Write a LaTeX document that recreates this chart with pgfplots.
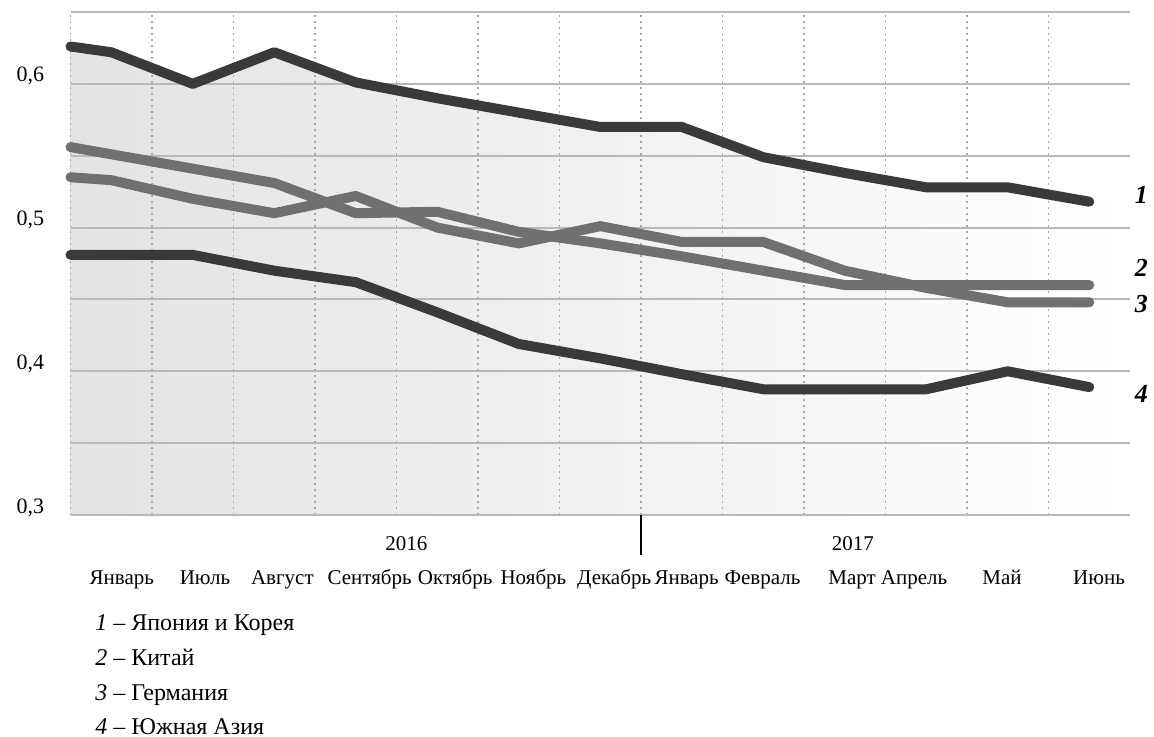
\documentclass[border=0pt]{standalone}
\usepackage{fontspec}
\setmainfont{Liberation Serif}
\usepackage{pgfplots}
\pgfplotsset{compat=1.18}
\definecolor{darkline}{HTML}{3A3A3A}
\definecolor{midline}{HTML}{707070}
\definecolor{gridgray}{HTML}{B8B8B8}
\definecolor{dotgray}{HTML}{A8A8A8}

\begin{document}
\begin{tikzpicture}
\begin{axis}[
  at={(35.25pt,-257.5pt)}, anchor=south west,
  scale only axis, width=529.75pt, height=251.5pt,
  xmin=-0.5, xmax=12.5, ymin=0.3, ymax=0.65,
  set layers, clip=false,
  axis background/.style={left color=black!11, right color=white},
  axis line style={draw=none},
  tick style={draw=none},
  ytick={0.3,0.4,0.5,0.6},
  minor ytick={0.35,0.45,0.55,0.65},
  ymajorgrids, yminorgrids,
  major y grid style={gridgray, line width=1pt},
  minor y grid style={gridgray, line width=1pt},
  minor xtick={-0.5,0.5,...,11.5},
  xminorgrids,
  minor x grid style={dotgray, line width=0.8pt, dash pattern=on 0.8pt off 2.2pt},
  xtick={0.13,1.15,2.10,3.17,4.22,5.18,6.17,7.06,7.99,9.09,9.85,10.93,12.12},
  xticklabels={Январь,Июль,Август,Сентябрь,Октябрь,Ноябрь,Декабрь,Январь,Февраль,Март,Апрель,Май,Июнь},
  xticklabel style={font=\fontsize{10.5}{12}\selectfont, anchor=base, yshift=-34.5pt},
  yticklabel style={font=\fontsize{11}{13}\selectfont, anchor=base east, inner sep=0pt, xshift=-13pt, yshift=1pt,
    /pgf/number format/.cd, use comma, fixed, fixed zerofill, precision=1},
  /pgf/number format/assume math mode=true,
]
% white above the Japan & Korea curve, so the shading stays only beneath it
\addplot[on layer=axis background, draw=none, fill=white]
  coordinates {(-0.5,0.65) (-0.5,0.626) (0,0.622) (1,0.600) (2,0.622) (3,0.601) (4,0.590) (5,0.580)
               (6,0.570) (7,0.570) (8,0.549) (9,0.538) (10,0.528) (11,0.528) (12,0.518)
               (12.5,0.518) (12.5,0.65)};

% 4 - South Asia
\addplot[darkline, line width=5pt, line cap=round, line join=round]
  coordinates {(-0.5,0.481) (0,0.481) (1,0.481) (2,0.470) (3,0.462) (4,0.441) (5,0.419)
               (6,0.409) (7,0.398) (8,0.3875) (9,0.3875) (10,0.3875) (11,0.400) (12,0.389)};
% 3 - Germany
\addplot[midline, line width=5pt, line cap=round, line join=round]
  coordinates {(-0.5,0.535) (0,0.533) (1,0.520) (2,0.510) (3,0.522) (4,0.500) (5,0.489)
               (6,0.501) (7,0.490) (8,0.490) (9,0.470) (10,0.458) (11,0.448) (12,0.448)};
% 2 - China
\addplot[midline, line width=5pt, line cap=round, line join=round]
  coordinates {(-0.5,0.556) (0,0.551) (1,0.541) (2,0.531) (3,0.510) (4,0.511) (5,0.497)
               (6,0.489) (7,0.480) (8,0.470) (9,0.460) (10,0.460) (11,0.460) (12,0.460)};
% 1 - Japan and Korea
\addplot[darkline, line width=5pt, line cap=round, line join=round]
  coordinates {(-0.5,0.626) (0,0.622) (1,0.600) (2,0.622) (3,0.601) (4,0.590) (5,0.580)
               (6,0.570) (7,0.570) (8,0.549) (9,0.538) (10,0.528) (11,0.528) (12,0.518)};

% years and their separator
\node[anchor=base, yshift=-17.5pt, font=\fontsize{10.5}{12}\selectfont] at (axis cs:3.62,0.3) {2016};
\node[anchor=base, yshift=-17.5pt, font=\fontsize{10.5}{12}\selectfont] at (axis cs:9.10,0.3) {2017};
\draw[black, line width=0.6pt] (axis cs:6.5,0.3) -- ++(0pt,-20pt);

% series numbers at the right end
\node[font=\fontsize{13}{15}\selectfont\bfseries\itshape] at (axis cs:12.64,0.523) {1};
\node[font=\fontsize{13}{15}\selectfont\bfseries\itshape] at (axis cs:12.64,0.472) {2};
\node[font=\fontsize{13}{15}\selectfont\bfseries\itshape] at (axis cs:12.64,0.4465) {3};
\node[font=\fontsize{13}{15}\selectfont\bfseries\itshape] at (axis cs:12.64,0.384) {4};
\end{axis}

% key
\begin{scope}[every node/.style={anchor=base west, inner sep=0pt, font=\fontsize{12}{14}\selectfont}]
\node at (47.5pt,-315pt) {\textit{1} – Япония и Корея};
\node at (47.5pt,-332.5pt) {\textit{2} – Китай};
\node at (47.5pt,-350pt) {\textit{3} – Германия};
\node at (47.5pt,-367pt) {\textit{4} – Южная Азия};
\end{scope}
\pgfresetboundingbox
\path[use as bounding box] (0pt,0pt) rectangle (577pt,-368.5pt);
\end{tikzpicture}
\end{document}
